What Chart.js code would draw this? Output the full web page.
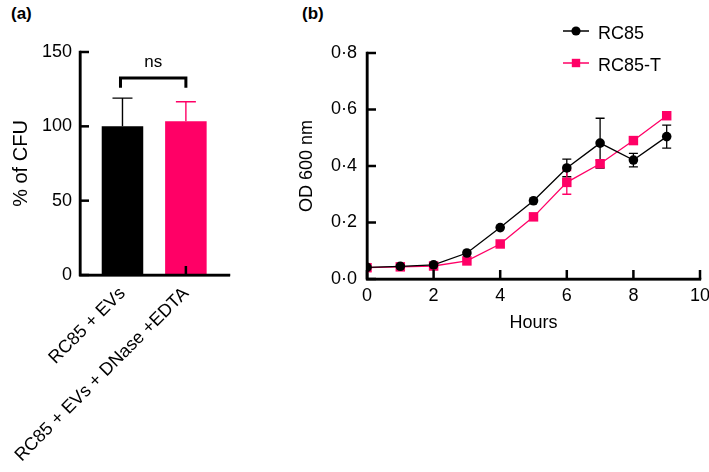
<!DOCTYPE html>
<html>
<head>
<meta charset="utf-8">
<script src="https://cdn.jsdelivr.net/npm/chart.js@4/dist/chart.umd.min.js"></script>
<style>
  body { margin: 0; background: #fff; font-family: 'Liberation Sans', Arial, sans-serif; }
  #wrap { position: relative; width: 709px; height: 472px; overflow: hidden; }
  .panel { position: absolute; top: 4px; font-weight: bold; font-size: 17px; line-height: 20px; }
  #cfu { position: absolute; left: 0; top: 0; }
  #growth { position: absolute; left: 292px; top: 0; }
</style>
</head>
<body>
<div id="wrap">
  <div class="panel" style="left:11px">(a)</div>
  <div class="panel" style="left:302px">(b)</div>
  <canvas id="growth" width="417" height="472"></canvas>
  <canvas id="cfu" width="240" height="472"></canvas>
</div>
<script>
// panel (a)
const barLabels = ['RC85 + EVs', 'RC85 + EVs + DNase +EDTA'];
const barMeans = [100, 103.5];
const barErrors = [19, 13];
const barColors = ['#000000', '#ff0066'];
const sigLabel = 'ns';

// panel (b)
const hours = [0, 1, 2, 3, 4, 5, 6, 7, 8, 9];
const rc85 = [0.041, 0.045, 0.050, 0.092, 0.182, 0.277, 0.393, 0.481, 0.421, 0.504];
const rc85Err = [0, 0, 0, 0, 0, 0, 0.031, 0.088, 0.024, 0.041];
const rc85t = [0.040, 0.043, 0.046, 0.064, 0.124, 0.220, 0.342, 0.408, 0.490, 0.578];
const rc85tErr = [0, 0, 0, 0, 0, 0, 0.042, 0.012, 0, 0];
const odTicks = ['0·0', '0·2', '0·4', '0·6', '0·8'];

const FONT = "'Liberation Sans', Arial, sans-serif";
const pink = '#ff0066';

// axis lines + GraphPad style ticks pointing into the plot, drawn last
const makeAxes = () => ({
    id: 'axesInward',
    afterDraw(chart) {
        const {ctx, chartArea: ca} = chart;
        ctx.save();
        ctx.strokeStyle = '#000';
        ctx.lineWidth = 2.5;
        ctx.lineCap = 'square';
        ctx.beginPath();
        ctx.moveTo(ca.left, ca.top);
        ctx.lineTo(ca.left, ca.bottom);
        ctx.lineTo(ca.right, ca.bottom);
        ctx.stroke();
        ctx.lineCap = 'butt';
        Object.values(chart.scales).forEach(scale => {
            scale.ticks.forEach(t => {
                const p = scale.getPixelForValue(t.value);
                ctx.beginPath();
                if (scale.isHorizontal()) {
                    ctx.moveTo(p, ca.bottom);
                    ctx.lineTo(p, ca.bottom - 9);
                } else {
                    ctx.moveTo(ca.left, p);
                    ctx.lineTo(ca.left + 9, p);
                }
                ctx.stroke();
            });
        });
        ctx.restore();
    }
});

const makeErrorBars = () => ({
    id: 'errorBars',
    beforeDatasetsDraw(chart, args, opts) {
        const ctx = chart.ctx;
        const y = chart.scales.y;
        ctx.save();
        chart.data.datasets.forEach((ds, i) => {
            const meta = chart.getDatasetMeta(i);
            ds.errors.forEach((e, j) => {
                if (!e) return;
                const v = ds.values[j];
                const px = meta.data[j].x;
                const top = y.getPixelForValue(v + e);
                const bot = opts.upOnly ? y.getPixelForValue(v) : y.getPixelForValue(v - e);
                const col = Array.isArray(ds.errorColor) ? ds.errorColor[j] : ds.errorColor;
                ctx.strokeStyle = col;
                ctx.lineWidth = opts.lineWidth;
                ctx.beginPath();
                ctx.moveTo(px, top); ctx.lineTo(px, bot);
                ctx.moveTo(px - opts.cap, top); ctx.lineTo(px + opts.cap, top);
                if (!opts.upOnly) { ctx.moveTo(px - opts.cap, bot); ctx.lineTo(px + opts.cap, bot); }
                ctx.stroke();
            });
        });
        ctx.restore();
    }
});

const bracket = {
    id: 'bracket',
    afterDatasetsDraw(chart) {
        const {ctx, scales: {x, y}} = chart;
        const x0 = x.getPixelForValue(0) - 2, x1 = x.getPixelForValue(1);
        const yTop = y.getPixelForValue(132.5), yLeg = y.getPixelForValue(126);
        ctx.save();
        ctx.strokeStyle = '#000';
        ctx.lineWidth = 3;
        ctx.beginPath();
        ctx.moveTo(x0, yLeg); ctx.lineTo(x0, yTop); ctx.lineTo(x1, yTop); ctx.lineTo(x1, yLeg);
        ctx.stroke();
        ctx.fillStyle = '#000';
        ctx.font = '17px ' + FONT;
        ctx.textAlign = 'center';
        ctx.textBaseline = 'alphabetic';
        ctx.fillText(sigLabel, (x0 + x1) / 2, yTop - 11);
        ctx.restore();
    }
};

const lineLegend = {
    id: 'lineLegend',
    afterDatasetsDraw(chart) {
        const {ctx, chartArea} = chart;
        ctx.save();
        chart.data.datasets.forEach((ds, i) => {
            const cx = chartArea.right - 124;
            const cy = chartArea.top - 22 + i * 32;
            ctx.strokeStyle = ds.borderColor;
            ctx.lineWidth = 1.5;
            ctx.beginPath();
            ctx.moveTo(cx - 13, cy); ctx.lineTo(cx + 13, cy);
            ctx.stroke();
            ctx.fillStyle = ds.pointBackgroundColor;
            if (ds.pointStyle === 'rect') {
                ctx.fillRect(cx - 4.2, cy - 4.2, 8.4, 8.4);
            } else {
                ctx.beginPath(); ctx.arc(cx, cy, 4.6, 0, Math.PI * 2); ctx.fill();
            }
            ctx.fillStyle = '#000';
            ctx.font = '18px ' + FONT;
            ctx.textAlign = 'left';
            ctx.textBaseline = 'middle';
            ctx.fillText(ds.label, cx + 22, cy + 3);
        });
        ctx.restore();
    }
};

// fresh option objects for every scale
const axisBorder = () => ({ display: true, color: '#000', width: 2.5 });
const noGrid = () => ({ display: true, drawOnChartArea: false, drawTicks: false, offset: false });

new Chart(document.getElementById('growth'), {
    type: 'line',
    data: {
        datasets: [{
            label: 'RC85',
            data: hours.map((h, i) => ({ x: h, y: rc85[i] })),
            values: rc85,
            errors: rc85Err,
            errorColor: '#000',
            borderColor: '#000',
            backgroundColor: '#000',
            pointBackgroundColor: '#000',
            pointBorderWidth: 0,
            pointStyle: 'circle',
            pointRadius: 4.8,
            borderWidth: 1.3,
            tension: 0
        }, {
            label: 'RC85-T',
            data: hours.map((h, i) => ({ x: h, y: rc85t[i] })),
            values: rc85t,
            errors: rc85tErr,
            errorColor: pink,
            borderColor: pink,
            backgroundColor: pink,
            pointBackgroundColor: pink,
            pointBorderWidth: 0,
            pointStyle: 'rect',
            pointRadius: 6.7,
            borderWidth: 1.3,
            tension: 0
        }]
    },
    options: {
        responsive: false,
        animation: false,
        events: [],
        layout: { padding: { left: 0, top: 53, right: 9, bottom: 138 } },
        plugins: {
            legend: { display: false },
            tooltip: { enabled: false },
            errorBars: { upOnly: false, cap: 4.5, lineWidth: 1.3 }
        },
        scales: {
            x: {
                type: 'linear',
                min: 0,
                max: 10,
                border: axisBorder(),
                grid: noGrid(),
                afterFit: s => { s.height = 55; s.paddingLeft = 0; s.paddingRight = 0; },
                ticks: { stepSize: 2, padding: 6, maxRotation: 0, color: '#000', font: { family: FONT, size: 18 } },
                title: { display: true, text: 'Hours', color: '#000', font: { family: FONT, size: 18 }, padding: { top: 4, bottom: 0 } }
            },
            y: {
                min: 0,
                max: 0.8,
                border: axisBorder(),
                grid: noGrid(),
                afterFit: s => { s.width = 75; },
                ticks: {
                    stepSize: 0.2,
                    padding: 10,
                    color: '#000',
                    font: { family: FONT, size: 18 },
                    callback: (v, i) => odTicks[i]
                },
                title: { display: true, text: 'OD 600 nm', color: '#000', font: { family: FONT, size: 18 }, padding: { top: 4, bottom: 4 } }
            }
        }
    },
    plugins: [makeErrorBars(), lineLegend, makeAxes()]
});

new Chart(document.getElementById('cfu'), {
    type: 'bar',
    data: {
        datasets: [{
            data: barMeans.map((v, i) => ({ x: i, y: v })),
            values: barMeans,
            errors: barErrors,
            errorColor: barColors,
            backgroundColor: barColors,
            borderWidth: 0,
            barPercentage: 0.655,
            categoryPercentage: 1
        }]
    },
    options: {
        responsive: false,
        animation: false,
        events: [],
        layout: { padding: { left: 5, top: 52, right: 11, bottom: 0 } },
        plugins: {
            legend: { display: false },
            tooltip: { enabled: false },
            errorBars: { upOnly: true, cap: 10, lineWidth: 1.4 }
        },
        scales: {
            x: {
                type: 'linear',
                offset: false,
                min: -0.67,
                max: 1.68,
                border: axisBorder(),
                grid: noGrid(),
                afterBuildTicks: s => { s.ticks = barLabels.map((_, i) => ({ value: i })); },
                afterFit: s => { s.height = 197; s.paddingLeft = 0; s.paddingRight = 0; },
                ticks: {
                    autoSkip: false,
                    minRotation: 45,
                    maxRotation: 45,
                    padding: 8,
                    color: '#000',
                    font: { family: FONT, size: 18 },
                    callback: (v, i) => barLabels[i]
                }
            },
            y: {
                min: 0,
                max: 150,
                border: axisBorder(),
                grid: noGrid(),
                afterFit: s => { s.width = 75; },
                ticks: { stepSize: 50, padding: 8, color: '#000', font: { family: FONT, size: 18 } },
                title: { display: true, text: '% of CFU', color: '#000', font: { family: FONT, size: 20 }, padding: { top: 4, bottom: 4 } }
            }
        }
    },
    plugins: [makeErrorBars(), bracket, makeAxes()]
});
</script>
</body>
</html>
